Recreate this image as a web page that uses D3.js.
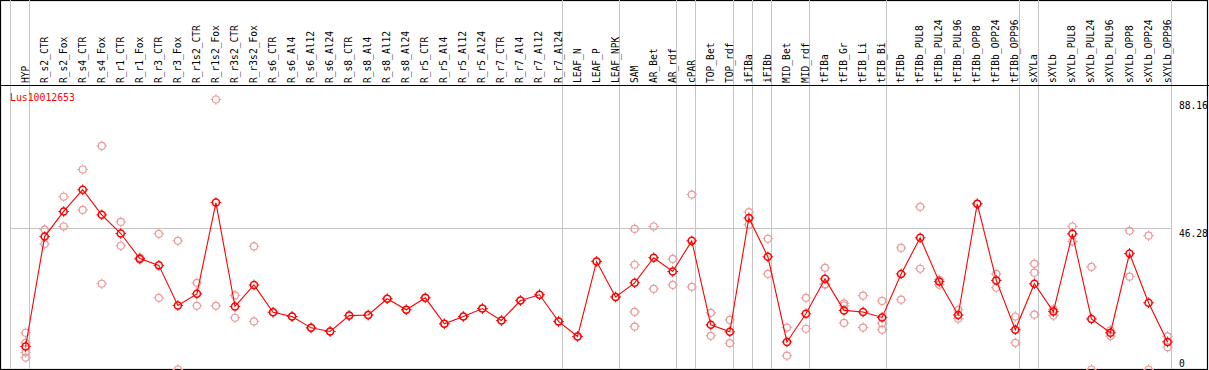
<!DOCTYPE html>
<html><head><meta charset="utf-8">
<script src="https://cdn.jsdelivr.net/npm/d3@7"></script>
<style>html,body{margin:0;padding:0;background:#fff;}svg{display:block;}</style>
</head><body>
<svg id="chart" width="1209" height="370"></svg>
<script>
const categories = ["HYP","R_s2_CTR","R_s2_Fox","R_s4_CTR","R_s4_Fox","R_r1_CTR","R_r1_Fox","R_r3_CTR","R_r3_Fox","R_r1s2_CTR","R_r1s2_Fox","R_r3s2_CTR","R_r3s2_Fox","R_s6_CTR","R_s6_Al4","R_s6_Al12","R_s6_Al24","R_s8_CTR","R_s8_Al4","R_s8_Al12","R_s8_Al24","R_r5_CTR","R_r5_Al4","R_r5_Al12","R_r5_Al24","R_r7_CTR","R_r7_Al4","R_r7_Al12","R_r7_Al24","LEAF_N","LEAF_P","LEAF_NPK","SAM","AR_Bet","AR_rdf","cPAR","TOP_Bet","TOP_rdf","iFIBa","iFIBb","MID_Bet","MID_rdf","tFIBa","tFIB_Gr","tFIB_Li","tFIB_Bi","tFIBb","tFIBb_PUL8","tFIBb_PUL24","tFIBb_PUL96","tFIBb_OPP8","tFIBb_OPP24","tFIBb_OPP96","sXYLa","sXYLb","sXYLb_PUL8","sXYLb_PUL24","sXYLb_PUL96","sXYLb_OPP8","sXYLb_OPP24","sXYLb_OPP96"];

const groupSizes = [1,28,3,3,1,2,1,1,2,4,7,1,7];

const means = [7.5,43.4,51.6,58.7,50.5,44.4,36.2,34.0,20.9,24.7,54.5,20.6,27.6,18.7,17.3,13.6,12.4,17.6,17.8,23.1,19.5,23.4,14.9,17.3,19.9,16.0,22.5,24.4,15.7,10.8,35.3,23.7,28.3,36.5,32.0,42.0,14.6,12.3,49.5,36.8,9.0,18.2,29.6,19.3,18.8,17.0,31.2,43.0,28.7,17.8,54.1,29.1,13.0,28.0,18.9,44.3,16.5,12.0,37.9,21.8,9.0];

const replicates = [
  [12.0,8.7,5.6,3.9],[45.7,41.0],[56.4,46.7],[65.3,52.1],[73.0,28.0],[48.2,40.4],[36.5,35.9],[44.3,23.4],[42.0,0],[28.3,20.8],
  [88.16,20.8],[24.2,16.9],[40.2,15.7],[18.7],[17.3],[13.6],[12.4],[17.6],[17.8],[23.1],
  [19.5],[23.4],[14.9],[17.3],[19.9],[16.0],[22.5],[24.4],[15.7],[10.8],
  [35.3],[23.7],[45.9,34.2,18.8,14.0],[46.7,26.3],[36.1,27.6],[57.1,27.0],[18.5,11.0],[16.2,8.6],[51.4,47.3],[42.7,31.2],
  [13.7,4.5],[23.4,13.3],[33.2,27.9,27.7],[21.6,20.9,15.2],[24.1,13.7],[22.4,15.1,13.0],[39.7,22.8],[53.1,32.9],[29.3,27.7],[19.5,16.6],
  [54.1],[31.2,26.7],[17.3,8.7],[34.5,31.6,17.9],[19.6,17.6],[46.7,41.8],[33.5,0],[12.8,10.9],[45.3,30.3],[43.7,0],[10.8,7.3]
];

const yTicks = [0, 46.28, 88.16];
const geneName = "Lus10012653";

const W = 1209, H = 370;
const plotLeft = 10, plotRight = 1171, headerY = 86, plotBottom = 369;
const svg = d3.select("#chart");
const font = "'DejaVu Sans Mono', monospace";

const x = d3.scaleBand().domain(categories).range([plotLeft, plotRight]).padding(0);
const step = x.step();
const cx = d => x(d) + step * 0.82;
const y = d3.scaleLinear().domain([0, 88.16]).range([369.5, 99.5]);

// outer frame
svg.append("rect").attr("x",0.5).attr("y",0.5).attr("width",1207).attr("height",369)
  .attr("fill","none").attr("stroke","#000").attr("stroke-width",1.2);

// group separators
const bounds = [0];
groupSizes.reduce((acc, s) => { bounds.push(acc + s); return acc + s; }, 0);
svg.append("g").selectAll("line").data(bounds).join("line")
  .attr("x1", k => Math.round(plotLeft + step * k) + 0.5)
  .attr("x2", k => Math.round(plotLeft + step * k) + 0.5)
  .attr("y1", 0).attr("y2", plotBottom)
  .attr("stroke", "#c4c4c4").attr("stroke-width", 1);

// horizontal gridline (middle tick)
svg.append("g").selectAll("line").data(yTicks.filter(t => t > 0 && t < 88.16)).join("line")
  .attr("x1", plotLeft).attr("x2", plotRight)
  .attr("y1", d => Math.round(y(d)) + 0.5).attr("y2", d => Math.round(y(d)) + 0.5)
  .attr("stroke", "#c4c4c4").attr("stroke-width", 1);

// header separator
svg.append("line").attr("x1",0).attr("x2",W).attr("y1",headerY - 0.5).attr("y2",headerY - 0.5)
  .attr("stroke","#000").attr("stroke-width",1.2);

// header labels
svg.append("g").selectAll("text").data(categories).join("text")
  .attr("transform", d => `translate(${cx(d) + 3},83) rotate(-90)`)
  .attr("font-family", font).attr("font-size", "9.6px").attr("fill", "#000")
  .text(d => d);

// y labels
svg.append("g").selectAll("text").data(yTicks).join("text")
  .attr("x", 1179)
  .attr("y", d => Math.min(y(d) + 9, 367))
  .attr("font-family", font).attr("font-size", "9.6px").attr("fill", "#000")
  .text(d => d === 0 ? "0" : d.toFixed(2));

// gene name
svg.append("text").attr("x", 10).attr("y", 101)
  .attr("font-family", font).attr("font-size", "9.8px").attr("fill", "#ff0000")
  .text(geneName);

function marker(g, color, sw) {
  const r = 3.5;
  g.append("circle").attr("r", r).attr("fill", "none").attr("stroke", color).attr("stroke-width", sw);
  const ticks = [[0,-r,0,-r-1.8],[0,r,0,r+1.8],[-r,0,-r-1.8,0],[r,0,r+1.8,0]];
  ticks.forEach(t => g.append("line").attr("x1",t[0]).attr("y1",t[1]).attr("x2",t[2]).attr("y2",t[3])
    .attr("stroke", color).attr("stroke-width", 1));
}

// replicates
const repData = [];
replicates.forEach((arr, i) => arr.forEach(v => repData.push({c: categories[i], v})));
svg.append("g").selectAll("g").data(repData).join("g")
  .attr("transform", d => `translate(${cx(d.c)},${y(d.v)})`)
  .each(function() { marker(d3.select(this), "#eb9a9a", 1.2); });

// mean line
const line = d3.line().x((d, i) => cx(categories[i])).y(d => y(d));
svg.append("path").datum(means).attr("d", line)
  .attr("fill", "none").attr("stroke", "#ff0000").attr("stroke-width", 1.1);

// mean markers
svg.append("g").selectAll("g").data(means).join("g")
  .attr("transform", (d, i) => `translate(${cx(categories[i])},${y(d)})`)
  .each(function() { marker(d3.select(this), "#ff0000", 1.5); });
</script>
</body></html>
